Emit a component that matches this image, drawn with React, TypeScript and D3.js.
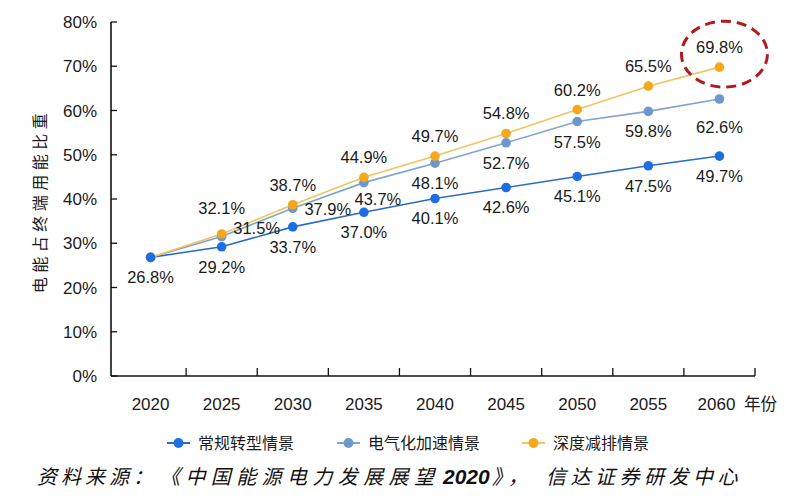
import * as d3 from "d3";

// 年份与三种情景下电能占终端用能比重(%)
const years = ["2020", "2025", "2030", "2035", "2040", "2045", "2050", "2055", "2060"];
const conventional = [26.8, 29.2, 33.7, 37.0, 40.1, 42.6, 45.1, 47.5, 49.7];
const electrified = [26.8, 31.5, 37.9, 43.7, 48.1, 52.7, 57.5, 59.8, 62.6];
const deepCut = [26.8, 32.1, 38.7, 44.9, 49.7, 54.8, 60.2, 65.5, 69.8];
const yTicks = [0, 10, 20, 30, 40, 50, 60, 70, 80];
const seriesNames = ["常规转型情景", "电气化加速情景", "深度减排情景"];

const width = 800;
const height = 500;
const margin = { top: 22, left: 111, bottom: 376 };

const numFont = "'Liberation Sans', Arial, sans-serif";
const cjkFont = "'Noto Sans CJK SC', 'Noto Sans', sans-serif";

interface Series {
  name: string;
  values: number[];
  line: string;
  dot: string;
  // where the value label sits relative to the point, per year (null = no label)
  place: (string | null)[];
}

const series: Series[] = [
  {
    name: seriesNames[0],
    values: conventional,
    line: "#2a6cc4",
    dot: "#1b6fe2",
    place: ["below", "below", "below", "below", "below", "below", "below", "below", "below"],
  },
  {
    name: seriesNames[1],
    values: electrified,
    line: "#7fa3cf",
    dot: "#6e97cc",
    place: [null, "rightUp", "right", "belowRight", "below", "below", "below", "below", "belowFar"],
  },
  {
    name: seriesNames[2],
    values: deepCut,
    line: "#f2c35e",
    dot: "#f6a81c",
    place: [null, "aboveFar", "above", "above", "above", "above", "above", "above", "above"],
  },
];

const x = d3.scaleBand<string>().domain(years).range([115, 755]);
const y = d3.scaleLinear().domain([0, 80]).range([margin.bottom, margin.top]);
const cx = (yr: string) => (x(yr) ?? 0) + x.bandwidth() / 2;

function labelPos(place: string, px: number, py: number): [number, number] {
  switch (place) {
    case "rightUp":
      return [px + 35, py - 9];
    case "right":
      return [px + 35, py + 1];
    case "belowRight":
      return [px + 14, py + 16];
    case "below":
      return [px, py + 20];
    case "belowFar":
      return [px, py + 28];
    case "aboveFar":
      return [px, py - 26];
    case "above":
    default:
      return [px, py - 20];
  }
}

export default function App() {
  const line = d3
    .line<number>()
    .x((_, i) => cx(years[i]))
    .y((d) => y(d));

  const bandEdges = years.map((yr) => (x(yr) ?? 0) + x.bandwidth());

  return (
    <svg width={width} height={height} style={{ display: "block", position: "absolute", left: 0, top: 0 }}>
      <rect width={width} height={height} fill="#ffffff" />

      {/* y axis */}
      <line x1={margin.left} x2={margin.left} y1={margin.top} y2={margin.bottom} stroke="#111" strokeWidth={1.6} />
      {yTicks.map((t) => (
        <g key={t}>
          <line x1={margin.left} x2={margin.left + 6} y1={y(t)} y2={y(t)} stroke="#111" strokeWidth={1.3} />
          <text
            x={97}
            y={y(t)}
            dy="0.36em"
            textAnchor="end"
            fontFamily={numFont}
            fontSize={17}
            fill="#1a1a1a"
          >
            {t}%
          </text>
        </g>
      ))}
      <text
        transform={`translate(46,${(margin.top + margin.bottom) / 2 + 2}) rotate(-90)`}
        textAnchor="middle"
        fontFamily={cjkFont}
        fontSize={16}
        letterSpacing={4.5}
        fill="#1a1a1a"
      >
        电能占终端用能比重
      </text>

      {/* x axis */}
      <line x1={margin.left} x2={755} y1={margin.bottom} y2={margin.bottom} stroke="#111" strokeWidth={1.6} />
      {bandEdges.map((bx, i) => (
        <line key={i} x1={bx} x2={bx} y1={margin.bottom} y2={margin.bottom - 8} stroke="#111" strokeWidth={1.3} />
      ))}
      {years.map((yr) => (
        <text
          key={yr}
          x={cx(yr) - (yr === "2060" ? 3 : 0)}
          y={404}
          dy="0.36em"
          textAnchor="middle"
          fontFamily={numFont}
          fontSize={17}
          fill="#1a1a1a"
        >
          {yr}
        </text>
      ))}
      <text x={744} y={404} dy="0.36em" fontFamily={cjkFont} fontSize={16.5} fill="#1a1a1a">
        年份
      </text>

      {/* lines */}
      {series.map((s) => (
        <path key={s.name} d={line(s.values) ?? ""} fill="none" stroke={s.line} strokeWidth={1.6} />
      ))}
      {/* points: gray-blue, then orange, then blue on top at the shared start */}
      {[series[1], series[2], series[0]].map((s) =>
        s.values.map((v, i) => <circle key={s.name + i} cx={cx(years[i])} cy={y(v)} r={4.8} fill={s.dot} />)
      )}

      {/* value labels */}
      {series.map((s) =>
        s.values.map((v, i) => {
          const place = s.place[i];
          if (!place) return null;
          const [lx, ly] = labelPos(place, cx(years[i]), y(v));
          return (
            <text
              key={s.name + "l" + i}
              x={lx}
              y={ly}
              dy="0.36em"
              textAnchor="middle"
              fontFamily={numFont}
              fontSize={16.5}
              fill="#1a1a1a"
            >
              {v.toFixed(1)}%
            </text>
          );
        })
      )}

      {/* highlight ellipse */}
      <ellipse
        cx={cx(years[8]) + 5}
        cy={y(deepCut[8]) - 13}
        rx={43}
        ry={33}
        fill="none"
        stroke="#b3191c"
        strokeWidth={3}
        strokeDasharray="10 6"
      />

      {/* legend */}
      {series.map((s, i) => {
        const lx = [167, 337, 522][i];
        return (
          <g key={s.name} transform={`translate(${lx},443)`}>
            <line x1={0} x2={23} y1={0} y2={0} stroke={s.line} strokeWidth={2} />
            <circle cx={11.5} cy={0} r={5} fill={s.dot} />
            <text x={31} y={0} dy="0.36em" fontFamily={cjkFont} fontSize={16} fill="#1a1a1a">
              {s.name}
            </text>
          </g>
        );
      })}

      {/* source */}
      <text x={37} y={477} dy="0.36em" fontFamily={cjkFont} fontSize={20} fontStyle="italic" fill="#111">
        <tspan letterSpacing={4}>资料来源：</tspan>
        <tspan x={160} letterSpacing={5.4}>《中国能源电力发展展望</tspan>
        <tspan x={443} fontFamily={numFont} fontSize={21} fontWeight="bold" letterSpacing={0}>2020</tspan>
        <tspan x={492} letterSpacing={6}>》，</tspan>
        <tspan x={546} letterSpacing={4.5}>信达证券研发中心</tspan>
      </text>
    </svg>
  );
}
